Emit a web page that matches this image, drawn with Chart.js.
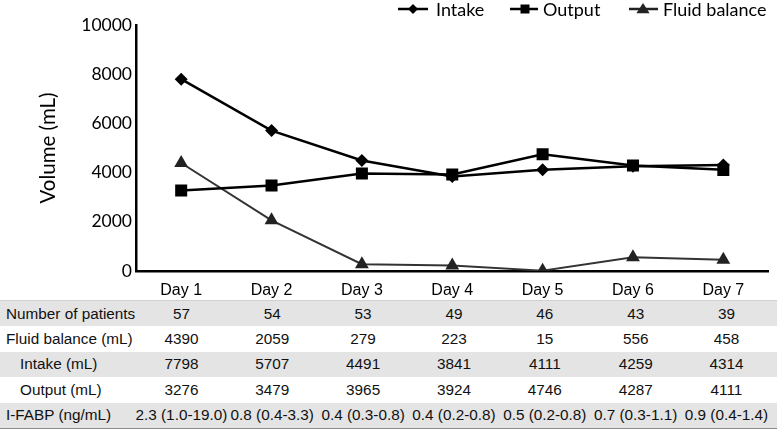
<!DOCTYPE html>
<html>
<head>
<meta charset="utf-8">
<script src="https://cdn.jsdelivr.net/npm/chart.js@4.4.1/dist/chart.umd.min.js"></script>
<style>
  html, body { margin: 0; padding: 0; background: #fff; }
  #wrap { position: relative; width: 777px; height: 429px; overflow: hidden; }
  #chartBox { position: absolute; left: 0; top: 0; width: 777px; height: 300px; }
  #tbl { position: absolute; left: 0; top: 300px; width: 777px; border-collapse: collapse; table-layout: fixed;
         font-family: "Liberation Sans", Arial, sans-serif; font-size: 15.3px; color: #111; }
  #tbl td { height: 25.4px; padding: 0; white-space: nowrap; overflow: visible; }
  #tbl tr.g td { background: #e4e4e4; }
  #tbl tr:first-child td { border-top: 1px solid #d0d0d0; }
  #tbl tr:last-child td { border-bottom: 1px solid #8a8a8a; }
  #tbl td.lab { padding-left: 6px; }
  #tbl td.lab.ind { padding-left: 20px; }
  #tbl td .c { display: flex; justify-content: center; width: 100%; }
</style>
</head>
<body>
<div id="wrap">
  <div id="chartBox"><canvas id="c"></canvas></div>
  <table id="tbl"></table>
</div>
<script>
const days = ["Day 1", "Day 2", "Day 3", "Day 4", "Day 5", "Day 6", "Day 7"];
const intake = [7798, 5707, 4491, 3841, 4111, 4259, 4314];
const output = [3276, 3479, 3965, 3924, 4746, 4287, 4111];
const fluidBalance = [4390, 2059, 279, 223, 15, 556, 458];
const patients = [57, 54, 53, 49, 46, 43, 39];
const ifabp = ["2.3 (1.0-19.0)", "0.8 (0.4-3.3)", "0.4 (0.3-0.8)", "0.4 (0.2-0.8)", "0.5 (0.2-0.8)", "0.7 (0.3-1.1)", "0.9 (0.4-1.4)"];
const yTicks = [0, 2000, 4000, 6000, 8000, 10000];

// Table
const rows = [
  { label: "Number of patients", vals: patients, gray: true, indent: false },
  { label: "Fluid balance (mL)", vals: fluidBalance, gray: false, indent: false },
  { label: "Intake (mL)", vals: intake, gray: true, indent: true },
  { label: "Output (mL)", vals: output, gray: false, indent: true },
  { label: "I-FABP (ng/mL)", vals: ifabp, gray: true, indent: false }
];
const tbl = document.getElementById('tbl');
let html = '<colgroup><col style="width:136px">' + days.map(() => '<col style="width:' + (636/7).toFixed(3) + 'px">').join('') + '<col style="width:5px"></colgroup>';
rows.forEach(r => {
  html += '<tr class="' + (r.gray ? 'g' : '') + '"><td class="lab' + (r.indent ? ' ind' : '') + '">' + r.label + '</td>';
  r.vals.forEach(v => { html += '<td><div class="c">' + v + '</div></td>'; });
  html += '<td></td></tr>';
});
tbl.innerHTML = html;

function mk(ctx, style, x, y, r) {
  ctx.beginPath();
  if (style === 'diamond') {
    ctx.moveTo(x, y - r); ctx.lineTo(x + r, y); ctx.lineTo(x, y + r); ctx.lineTo(x - r, y); ctx.closePath();
  } else if (style === 'square') {
    ctx.rect(x - r, y - r, 2 * r, 2 * r);
  } else {
    ctx.moveTo(x, y - r * 1.1); ctx.lineTo(x + r * 1.2, y + r * 0.75); ctx.lineTo(x - r * 1.2, y + r * 0.75); ctx.closePath();
  }
  ctx.fill();
}

const legendItems = [
  { text: "Intake", style: 'diamond', color: '#000', x0: 398, x1: 428, mx: 413, tx: 436, r: 5 },
  { text: "Output", style: 'square', color: '#000', x0: 510, x1: 538, mx: 525, tx: 543, r: 4.5 },
  { text: "Fluid balance", style: 'triangle', color: '#222', x0: 629, x1: 658, mx: 643, tx: 663, r: 5.5 }
];
const legendPlugin = {
  id: 'customLegend',
  afterDraw(chart) {
    const ctx = chart.ctx;
    ctx.save();
    const y = 9;
    legendItems.forEach(it => {
      ctx.strokeStyle = it.color; ctx.fillStyle = it.color; ctx.lineWidth = 2.5;
      ctx.beginPath(); ctx.moveTo(it.x0, y); ctx.lineTo(it.x1, y); ctx.stroke();
      mk(ctx, it.style, it.mx, y, it.r);
      ctx.fillStyle = '#000';
      ctx.font = '18px Lato';
      ctx.textBaseline = 'middle';
      ctx.textAlign = 'left';
      ctx.fillText(it.text, it.tx, y + 1);
    });
    ctx.restore();
  }
};

new Chart(document.getElementById('c'), {
  type: 'line',
  data: {
    labels: days,
    datasets: [
      { label: "Intake", data: intake, borderColor: '#000', backgroundColor: '#000', borderWidth: 2.5,
        pointStyle: 'rectRot', pointRadius: 6.5, pointBackgroundColor: '#000', pointBorderColor: '#000', pointBorderWidth: 0, tension: 0 },
      { label: "Output", data: output, borderColor: '#000', backgroundColor: '#000', borderWidth: 2.5,
        pointStyle: 'rect', pointRadius: 8.5, pointBackgroundColor: '#000', pointBorderColor: '#000', pointBorderWidth: 0, tension: 0 },
      { label: "Fluid balance", data: fluidBalance, borderColor: '#333', backgroundColor: '#222', borderWidth: 2,
        pointStyle: 'triangle', pointRadius: 8, pointBackgroundColor: '#222', pointBorderColor: '#222', pointBorderWidth: 0, tension: 0 }
    ]
  },
  options: {
    responsive: true,
    maintainAspectRatio: false,
    animation: false,
    events: [],
    layout: { padding: { top: 25, right: 5, left: 0, bottom: 0 } },
    plugins: { legend: { display: false }, tooltip: { enabled: false } },
    scales: {
      x: {
        offset: true,
        grid: { display: false, drawTicks: false },
        border: { display: true, color: '#000', width: 2.5 },
        ticks: { color: '#000', font: { family: 'Liberation Sans', size: 16 }, padding: 10, maxRotation: 0 },
        afterFit(s) { s.height = 29; }
      },
      y: {
        min: 0, max: 10000,
        afterBuildTicks(s) { s.ticks = yTicks.map(v => ({ value: v })); },
        grid: { display: false, drawTicks: false },
        border: { display: true, color: '#000', width: 2.5 },
        ticks: { color: '#000', font: { family: 'Lato', size: 17.5 }, padding: 4, callback: v => String(v) },
        title: { display: true, text: 'Volume (mL)', color: '#000', font: { family: 'Lato', size: 20.5 }, padding: { top: 36, bottom: 0 } },
        afterFit(s) { s.width = 136; }
      }
    }
  },
  plugins: [legendPlugin]
});
</script>
</body>
</html>
